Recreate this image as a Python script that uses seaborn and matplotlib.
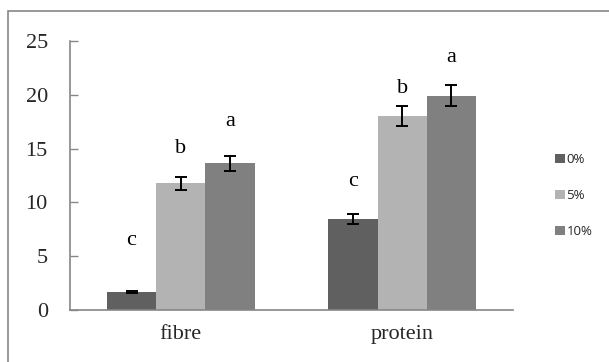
import matplotlib
matplotlib.use("Agg")
import matplotlib.pyplot as plt
import seaborn as sns
import pandas as pd
import numpy as np
from matplotlib.patches import Rectangle

categories = ["fibre", "protein"]
levels = ["0%", "5%", "10%"]
fibre_values = [1.65, 11.77, 13.63]
protein_values = [8.46, 18.0, 19.92]
fibre_err = [0.1, 0.6, 0.7]
protein_err = [0.5, 0.93, 1.0]
fibre_letters = ["c", "b", "a"]
protein_letters = ["c", "b", "a"]
fibre_letter_y = [6.5, 15.05, 17.5]
protein_letter_y = [11.9, 20.6, 23.5]
colors = ["#606060", "#b3b3b3", "#808080"]
yticks = [0, 5, 10, 15, 20, 25]

rows = []
for cat, vals, errs, lets, ly in [
    ("fibre", fibre_values, fibre_err, fibre_letters, fibre_letter_y),
    ("protein", protein_values, protein_err, protein_letters, protein_letter_y),
]:
    for lev, v, e, l, y in zip(levels, vals, errs, lets, ly):
        rows.append(dict(category=cat, level=lev, value=v, err=e, letter=l, ly=y))
df = pd.DataFrame(rows)

sns.set_style("white")
plt.rcParams["font.family"] = ["Liberation Serif", "DejaVu Serif"]

fig = plt.figure(figsize=(6.09, 3.62), dpi=100)
ax = fig.add_axes([70 / 609, 52 / 362, 443 / 609, 269 / 362])

sns.barplot(data=df, x="category", y="value", hue="level", hue_order=levels,
            order=categories, palette=colors, width=0.667, saturation=1,
            errorbar=None, ax=ax, edgecolor="none", legend=True)

# error bars & letters placed at bar centres
for cont, lev in zip(ax.containers, levels):
    sub = df[df.level == lev].set_index("category").loc[categories]
    xs = [p.get_x() + p.get_width() / 2 for p in cont.patches]
    ax.errorbar(xs, sub["value"].values, yerr=sub["err"].values, fmt="none",
                ecolor="black", elinewidth=1.4, capsize=4.5, capthick=1.4, zorder=5)
    for x, l, y in zip(xs, sub["letter"].values, sub["ly"].values):
        ax.text(x, y, l, ha="center", va="center", fontsize=16, color="black")

ax.set_xlim(-0.5, 1.5)
ax.set_ylim(0, 25)
ax.set_yticks(yticks)
ax.set_yticklabels([str(t) for t in yticks], fontsize=16)
ax.set_xlabel("")
ax.set_ylabel("")
ax.tick_params(axis="x", which="major", length=0, labelsize=16, pad=11)
ax.set_xticks([-0.5, 0.5, 1.5], minor=True)
ax.tick_params(axis="x", which="minor", direction="in", length=6, color="#868686", width=1)
ax.tick_params(axis="y", direction="in", length=6, color="#868686", width=1, pad=16, left=True)

for s in ["top", "right"]:
    ax.spines[s].set_visible(False)
for s in ["left", "bottom"]:
    ax.spines[s].set_color("#868686")
    ax.spines[s].set_linewidth(1.2)

leg = ax.legend(loc="upper left", bbox_to_anchor=(550 / 609, 1 - 148 / 362),
                bbox_transform=fig.transFigure, frameon=False,
                prop={"family": ["Open Sans", "DejaVu Sans"], "size": 9.5},
                handlelength=0.7, handleheight=0.7, handletextpad=0.15,
                labelspacing=1.75, borderaxespad=0)

fig.patches.append(Rectangle((8 / 609, -0.2), 2.0, (362 - 11) / 362 + 0.2,
                             transform=fig.transFigure, fill=False,
                             edgecolor="#868686", linewidth=1.2))

fig.savefig("out.png", dpi=100)
